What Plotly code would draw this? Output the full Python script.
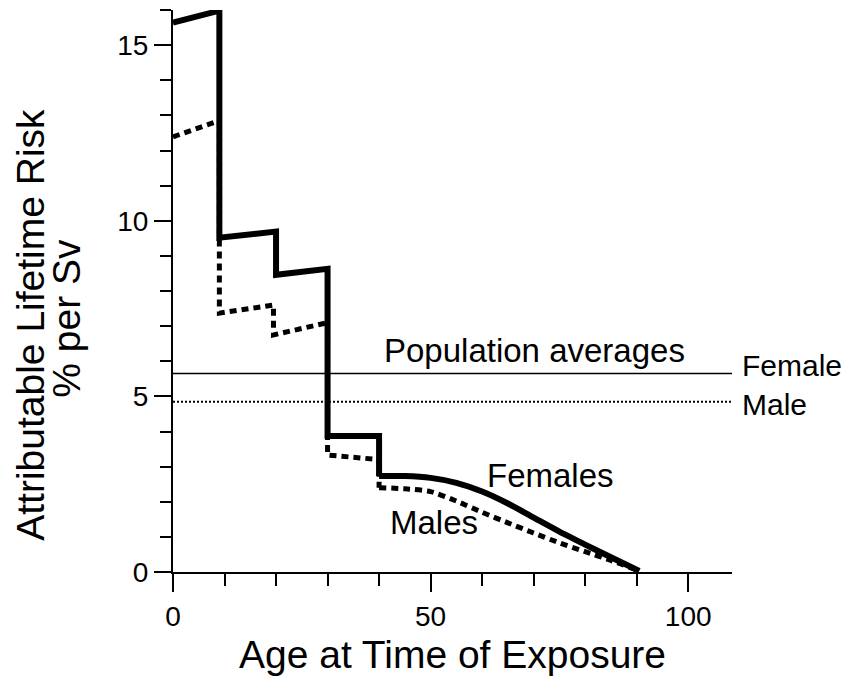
import plotly.graph_objects as go

# ---- data ----
female_step_x = [0, 9, 9, 20, 20, 30, 30, 40, 40]
female_step_y = [15.64, 15.98, 9.52, 9.69, 8.46, 8.63, 3.87, 3.87, 2.73]
female_tail_x = [40, 45, 50, 55, 60, 65, 70, 75, 80, 85, 90.5]
female_tail_y = [2.73, 2.73, 2.68, 2.54, 2.29, 1.95, 1.55, 1.15, 0.78, 0.42, 0.03]

male_step_x = [0, 9, 9, 19.5, 19.5, 30, 30, 40, 40]
male_step_y = [12.39, 12.85, 7.37, 7.60, 6.75, 7.10, 3.33, 3.20, 2.40]
male_tail_x = [40, 45, 50, 55, 60, 65, 70, 75, 80, 85, 90.5]
male_tail_y = [2.40, 2.37, 2.29, 2.02, 1.70, 1.40, 1.11, 0.83, 0.58, 0.33, 0.03]

pop_x = [0, 108.5]
pop_female = 5.65
pop_male = 4.85

x_range = [0, 108.5]
y_range = [0, 16]

FONT = "Liberation Sans, Arial, Helvetica, sans-serif"

fig = go.Figure()

male_dash = "7px,5px"
fig.add_trace(go.Scatter(x=male_step_x, y=male_step_y, mode="lines",
                         line=dict(color="black", width=5, dash=male_dash),
                         hoverinfo="skip"))
fig.add_trace(go.Scatter(x=male_tail_x, y=male_tail_y, mode="lines",
                         line=dict(color="black", width=5, dash=male_dash, shape="spline", smoothing=0.6),
                         hoverinfo="skip"))

fig.add_trace(go.Scatter(x=pop_x, y=[pop_female] * len(pop_x), mode="lines",
                         line=dict(color="black", width=1.6), hoverinfo="skip"))
fig.add_trace(go.Scatter(x=pop_x, y=[pop_male] * len(pop_x), mode="lines",
                         line=dict(color="black", width=2, dash="2px,2px"), hoverinfo="skip"))

fig.add_trace(go.Scatter(x=female_step_x, y=female_step_y, mode="lines",
                         line=dict(color="black", width=6), hoverinfo="skip"))
fig.add_trace(go.Scatter(x=female_tail_x, y=female_tail_y, mode="lines",
                         line=dict(color="black", width=6, shape="spline", smoothing=0.6),
                         hoverinfo="skip"))

ann_font = dict(family=FONT, size=33, color="black")
side_font = dict(family=FONT, size=30, color="black")
fig.add_annotation(x=70.1, y=6.3, text="Population averages", showarrow=False,
                   font=ann_font, xanchor="center", yanchor="middle")
fig.add_annotation(xref="paper", x=1.016, y=5.87, text="Female", showarrow=False,
                   font=side_font, xanchor="left", yanchor="middle", borderpad=0)
fig.add_annotation(xref="paper", x=1.016, y=4.78, text="Male", showarrow=False,
                   font=side_font, xanchor="left", yanchor="middle", borderpad=0)
fig.add_annotation(x=73.2, y=2.75, text="Females", showarrow=False,
                   font=ann_font, xanchor="center", yanchor="middle")
fig.add_annotation(x=50.7, y=1.42, text="Males", showarrow=False,
                   font=ann_font, xanchor="center", yanchor="middle")

# y-axis title, two rotated lines
title_font = dict(family=FONT, size=39, color="black")
fig.add_annotation(xref="paper", yref="paper", x=-0.254, y=0.44,
                   text="Attributable Lifetime Risk", textangle=-90, showarrow=False,
                   font=title_font, xanchor="center", yanchor="middle")
fig.add_annotation(xref="paper", yref="paper", x=-0.19, y=0.452,
                   text="% per Sv", textangle=-90, showarrow=False,
                   font=title_font, xanchor="center", yanchor="middle")

fig.update_layout(
    width=854, height=681,
    margin=dict(l=173, r=122, t=10, b=109),
    paper_bgcolor="white", plot_bgcolor="white",
    showlegend=False,
    font=dict(family=FONT, color="black"),
    xaxis=dict(
        range=x_range, showgrid=False, zeroline=False,
        showline=True, linecolor="black", linewidth=2,
        ticks="outside", ticklen=18, tickwidth=2, tickcolor="black",
        tick0=0, dtick=50,
        minor=dict(dtick=10, ticks="outside", ticklen=12, tickwidth=2, tickcolor="black", showgrid=False),
        tickfont=dict(family=FONT, size=28, color="black"),
        title=dict(text="Age at Time of Exposure", font=title_font, standoff=10),
    ),
    yaxis=dict(
        range=y_range, showgrid=False, zeroline=False,
        showline=True, linecolor="black", linewidth=2,
        ticks="outside", ticklen=17, tickwidth=2, tickcolor="black",
        tick0=0, dtick=5,
        minor=dict(dtick=1, ticks="outside", ticklen=11, tickwidth=2, tickcolor="black", showgrid=False),
        tickfont=dict(family=FONT, size=28, color="black"),
    ),
)

fig.write_html("out.html")
